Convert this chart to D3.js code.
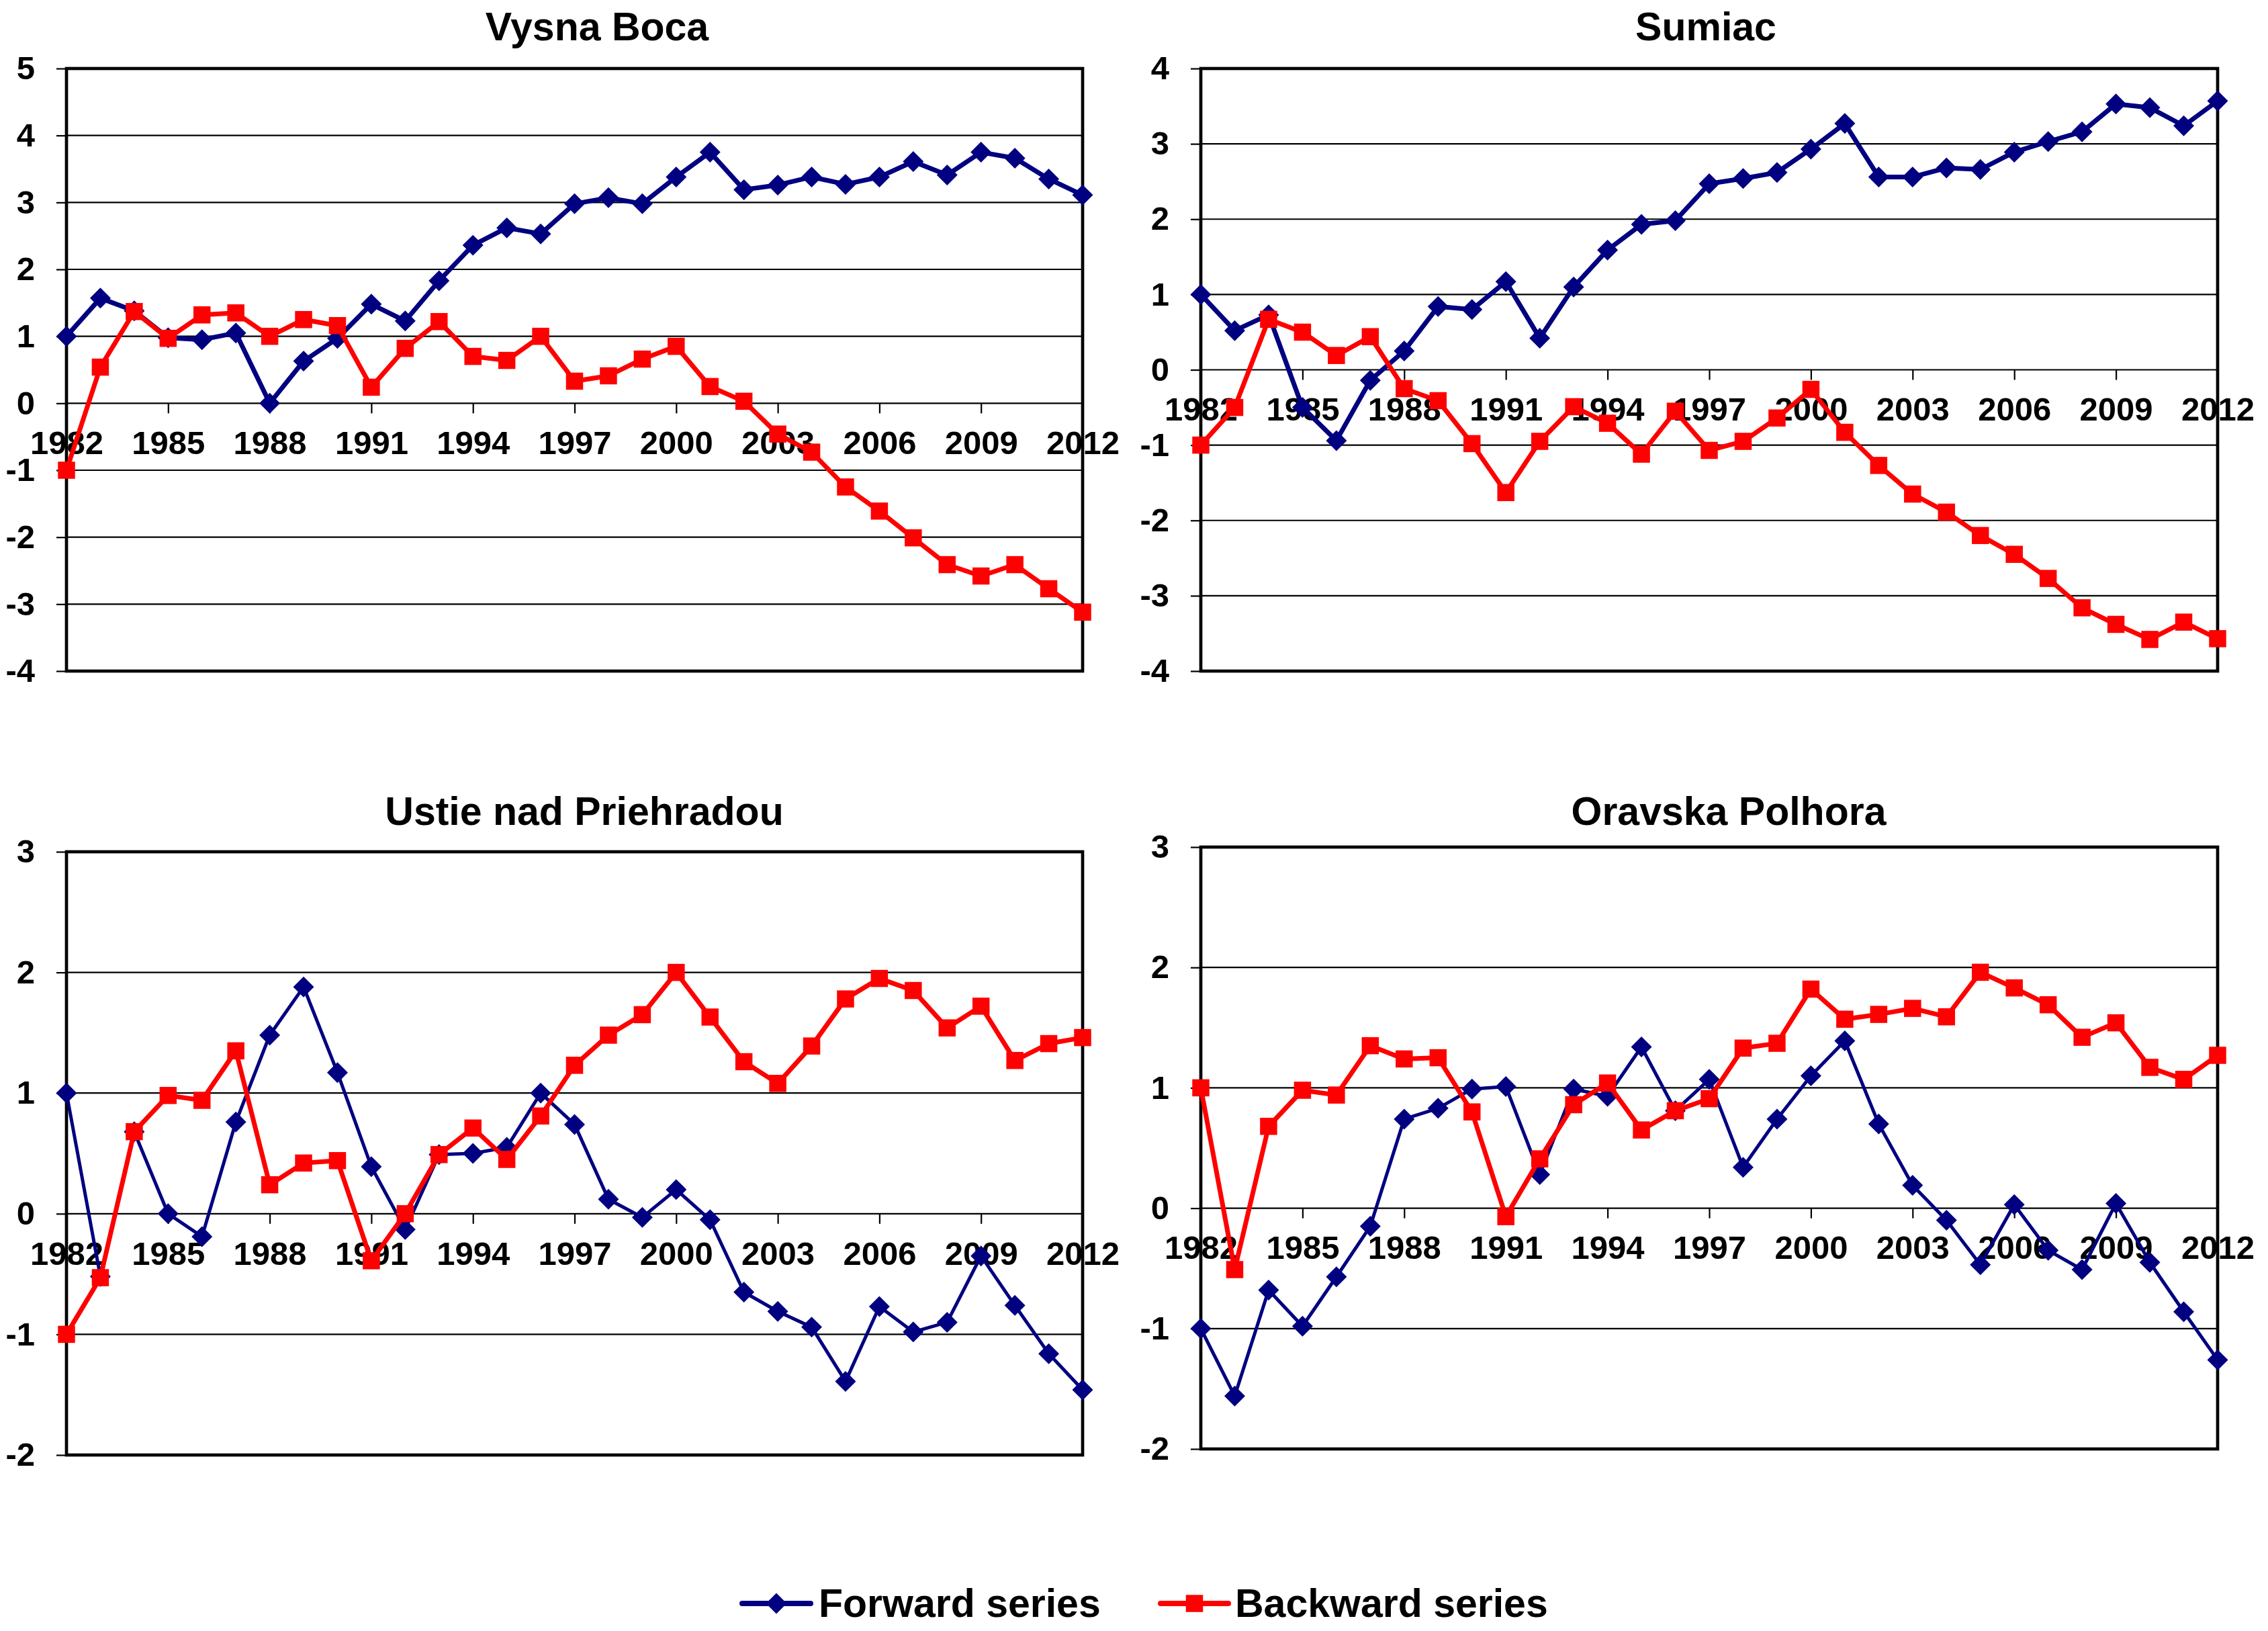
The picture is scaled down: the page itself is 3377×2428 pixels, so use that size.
<!DOCTYPE html>
<html>
<head>
<meta charset="utf-8">
<script src="https://cdn.jsdelivr.net/npm/d3@7"></script>
<style>
  body { margin: 0; background: #fff; }
  text { font-family: "Liberation Sans", Arial, sans-serif; font-weight: bold; }
</style>
</head>
<body>
<div id="chart"></div>
<script>
// categories
const years = [1982,1983,1984,1985,1986,1987,1988,1989,1990,1991,1992,1993,1994,1995,1996,
  1997,1998,1999,2000,2001,2002,2003,2004,2005,2006,2007,2008,2009,2010,2011,2012];
const yearTicks = [1982,1985,1988,1991,1994,1997,2000,2003,2006,2009,2012];

const seriesNames = ["Forward series", "Backward series"];
const stations = ["Vysna Boca", "Sumiac", "Ustie nad Priehradou", "Oravska Polhora"];

// values
const vysnaForward = [1.00,1.57,1.38,0.98,0.95,1.05,0.00,0.63,0.97,1.48,1.23,1.83,2.36,2.62,2.53,
  2.98,3.07,2.98,3.38,3.75,3.19,3.26,3.38,3.27,3.38,3.61,3.41,3.75,3.66,3.35,3.11];
const vysnaBackward = [-1.00,0.54,1.37,0.97,1.32,1.35,1.00,1.25,1.16,0.24,0.82,1.22,0.70,0.64,1.00,
  0.33,0.41,0.66,0.85,0.25,0.03,-0.46,-0.73,-1.25,-1.61,-2.01,-2.41,-2.58,-2.41,-2.77,-3.12];

const sumiacForward = [1.00,0.52,0.73,-0.50,-0.94,-0.14,0.25,0.84,0.80,1.17,0.42,1.10,1.59,1.93,1.98,
  2.47,2.54,2.62,2.93,3.27,2.56,2.56,2.68,2.66,2.89,3.03,3.16,3.53,3.48,3.24,3.57];
const sumiacBackward = [-1.00,-0.50,0.67,0.50,0.19,0.44,-0.25,-0.41,-0.98,-1.63,-0.95,-0.49,-0.71,-1.12,-0.55,
  -1.07,-0.95,-0.64,-0.26,-0.83,-1.27,-1.65,-1.89,-2.20,-2.45,-2.77,-3.16,-3.38,-3.58,-3.35,-3.57];

const ustieForward = [1.00,-0.52,0.68,0.00,-0.19,0.76,1.48,1.88,1.17,0.39,-0.13,0.49,0.50,0.55,1.00,
  0.74,0.12,-0.03,0.20,-0.05,-0.65,-0.81,-0.94,-1.39,-0.77,-0.98,-0.90,-0.35,-0.76,-1.16,-1.46];
const ustieBackward = [-1.00,-0.53,0.68,0.98,0.94,1.35,0.24,0.42,0.44,-0.39,0.00,0.49,0.71,0.45,0.81,
  1.23,1.48,1.65,2.00,1.63,1.26,1.08,1.39,1.78,1.95,1.85,1.54,1.72,1.27,1.41,1.46];

const oravskaForward = [-1.00,-1.56,-0.68,-0.98,-0.57,-0.15,0.74,0.83,0.99,1.01,0.28,0.99,0.93,1.34,0.81,
  1.07,0.34,0.74,1.10,1.39,0.70,0.19,-0.10,-0.47,0.03,-0.35,-0.51,0.04,-0.45,-0.86,-1.26];
const oravskaBackward = [1.00,-0.51,0.68,0.98,0.94,1.35,1.24,1.25,0.80,-0.07,0.41,0.86,1.04,0.65,0.81,
  0.91,1.33,1.37,1.82,1.57,1.61,1.66,1.59,1.96,1.83,1.69,1.42,1.54,1.17,1.07,1.27];

// y tick labels per panel
const vysnaTicks = [-4,-3,-2,-1,0,1,2,3,4,5];
const sumiacTicks = [-4,-3,-2,-1,0,1,2,3,4];
const ustieTicks = [-2,-1,0,1,2,3];
const oravskaTicks = [-2,-1,0,1,2,3];

const W = 3377, H = 2428;
const blue = "#000080", red = "#ff0000";

const svg = d3.select("#chart").append("svg")
  .attr("width", W).attr("height", H)
  .attr("viewBox", [0, 0, W, H]);

svg.append("rect").attr("width", W).attr("height", H).attr("fill", "#fff");

const panels = [
  {title: stations[0], fwd: vysnaForward, bwd: vysnaBackward, ticks: vysnaTicks,
   left: 99, right: 1612, top: 102, bottom: 999, titleX: 889, titleY: 60, blueW: 7},
  {title: stations[1], fwd: sumiacForward, bwd: sumiacBackward, ticks: sumiacTicks,
   left: 1788, right: 3302, top: 102, bottom: 999, titleX: 2540, titleY: 60, blueW: 7},
  {title: stations[2], fwd: ustieForward, bwd: ustieBackward, ticks: ustieTicks,
   left: 99, right: 1612, top: 1268, bottom: 2166, titleX: 870, titleY: 1228, blueW: 5},
  {title: stations[3], fwd: oravskaForward, bwd: oravskaBackward, ticks: oravskaTicks,
   left: 1788, right: 3302, top: 1261, bottom: 2157, titleX: 2574, titleY: 1228, blueW: 5}
];

const diamond = d3.symbol().type(d3.symbolSquare).size(480);
const square = d3.symbol().type(d3.symbolSquare).size(650);

function drawPanel(p){
  const x = d3.scaleLinear().domain([years[0], years[years.length-1]]).range([p.left, p.right]);
  const y = d3.scaleLinear().domain(d3.extent(p.ticks)).range([p.bottom, p.top]);
  const g = svg.append("g");

  g.append("text")
    .attr("x", p.titleX).attr("y", p.titleY)
    .attr("text-anchor", "middle")
    .attr("font-size", 59)
    .text(p.title);

  // gridlines
  g.selectAll(".grid").data(p.ticks).join("line")
    .attr("x1", p.left).attr("x2", p.right)
    .attr("y1", d => y(d)).attr("y2", d => y(d))
    .attr("stroke", "#000").attr("stroke-width", 2.2);

  // y axis
  const ya = g.append("g")
    .attr("transform", `translate(${p.left},0)`)
    .call(d3.axisLeft(y).tickValues(p.ticks).tickSize(15).tickPadding(32).tickFormat(d => String(d)));
  ya.select(".domain").remove();
  ya.selectAll(".tick line").attr("stroke-width", 2.2);
  ya.selectAll(".tick text").attr("font-size", 49).attr("fill", "#000")
    .attr("font-family", "Liberation Sans, Arial, sans-serif").attr("font-weight", "bold");

  // x axis on the zero line
  const xa = g.append("g")
    .attr("transform", `translate(0,${y(0)})`)
    .call(d3.axisBottom(x).tickValues(yearTicks).tickSize(15).tickPadding(26).tickFormat(d => String(d)));
  xa.select(".domain").remove();
  xa.selectAll(".tick line").attr("stroke-width", 2.2);
  xa.selectAll(".tick text").attr("font-size", 49).attr("fill", "#000")
    .attr("font-family", "Liberation Sans, Arial, sans-serif").attr("font-weight", "bold");

  // plot border
  g.append("rect")
    .attr("x", p.left).attr("y", p.top)
    .attr("width", p.right - p.left).attr("height", p.bottom - p.top)
    .attr("fill", "none").attr("stroke", "#000").attr("stroke-width", 4.7);

  const line = d3.line().x((d, i) => x(years[i])).y(d => y(d));

  g.append("path").datum(p.fwd)
    .attr("d", line).attr("fill", "none")
    .attr("stroke", blue).attr("stroke-width", p.blueW).attr("stroke-linejoin", "round");
  g.selectAll(".fwd").data(p.fwd).join("path")
    .attr("d", diamond)
    .attr("transform", (d, i) => `translate(${x(years[i])},${y(d)}) rotate(45)`)
    .attr("fill", blue);

  g.append("path").datum(p.bwd)
    .attr("d", line).attr("fill", "none")
    .attr("stroke", red).attr("stroke-width", 7).attr("stroke-linejoin", "round");
  g.selectAll(".bwd").data(p.bwd).join("path")
    .attr("d", square)
    .attr("transform", (d, i) => `translate(${x(years[i])},${y(d)})`)
    .attr("fill", red);
}

panels.forEach(drawPanel);

// legend
const legend = svg.append("g");
const legendItems = [
  {name: seriesNames[0], color: blue, x1: 1105, x2: 1207, sym: diamond, rot: 45, tx: 1219},
  {name: seriesNames[1], color: red, x1: 1728, x2: 1829, sym: square, rot: 0, tx: 1839}
];
legendItems.forEach(it => {
  const ly = 2387;
  legend.append("line")
    .attr("x1", it.x1).attr("x2", it.x2).attr("y1", ly).attr("y2", ly)
    .attr("stroke", it.color).attr("stroke-width", 8).attr("stroke-linecap", "round");
  legend.append("path")
    .attr("d", it.sym)
    .attr("transform", `translate(${(it.x1 + it.x2)/2},${ly}) rotate(${it.rot})`)
    .attr("fill", it.color);
  legend.append("text")
    .attr("x", it.tx).attr("y", 2407)
    .attr("font-size", 59)
    .text(it.name);
});
</script>
</body>
</html>
